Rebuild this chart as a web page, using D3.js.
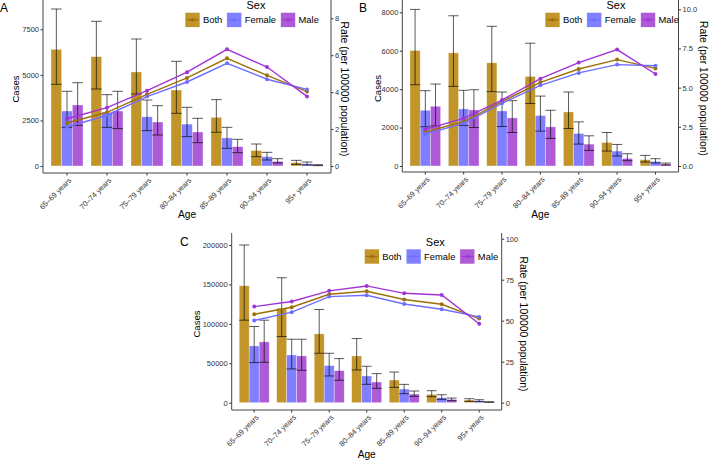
<!DOCTYPE html>
<html>
<head>
<meta charset="utf-8">
<script src="https://cdn.jsdelivr.net/npm/d3@7"></script>
<style>
  body { margin: 0; background: #fff; }
  text { font-family: "Liberation Sans", Arial, sans-serif; }
</style>
</head>
<body>
<script>
// --- data ---
const AGES = ['65–69 years', '70–74 years', '75–79 years', '80–84 years', '85–89 years', '90–94 years', '95+ years'];
const SEXES = ['Both', 'Female', 'Male'];

// panel A
const A_both = [6400, 6000, 5160, 4170, 2670, 850, 183];
const A_both_lo = [4480, 4225, 3950, 2890, 1850, 512, 91];
const A_both_hi = [8613, 7937, 6968, 5743, 3640, 1207, 311];
const A_female = [3017, 2950, 2700, 2300, 1540, 512, 128];
const A_female_lo = [2120, 2120, 1940, 1610, 970, 329, 55];
const A_female_hi = [4100, 3914, 3620, 3220, 2122, 750, 219];
const A_male = [3347, 3017, 2414, 1865, 1061, 256, 55];
const A_male_lo = [2230, 2050, 1700, 1280, 732, 165, 18];
const A_male_hi = [4570, 4100, 3310, 2617, 1463, 402, 73];
const A_rate_both = [2.33, 2.91, 3.88, 4.77, 5.83, 4.91, 4.03];
const A_rate_female = [2.11, 2.75, 3.76, 4.55, 5.56, 4.70, 4.15];
const A_rate_male = [2.56, 3.16, 4.08, 5.08, 6.32, 5.36, 3.77];

// panel B
const B_both = [6010, 5890, 5370, 4663, 2815, 1226, 328];
const B_both_lo = [4233, 4145, 3870, 3250, 1951, 777, 207];
const B_both_hi = [8150, 7820, 7270, 6390, 3851, 1744, 553];
const B_female = [2900, 2970, 2865, 2627, 1692, 777, 242];
const B_female_lo = [2040, 2110, 2055, 1813, 1140, 518, 155];
const B_female_hi = [3920, 3940, 3850, 3640, 2297, 1122, 380];
const B_male = [3110, 2917, 2502, 2036, 1140, 397, 104];
const B_male_lo = [2090, 2003, 1745, 1435, 812, 276, 52];
const B_male_hi = [4265, 3970, 3400, 2900, 1571, 639, 155];
const B_rate_both = [2.17, 2.83, 4.11, 5.34, 6.19, 6.79, 6.23];
const B_rate_female = [2.04, 2.72, 4.0, 5.15, 5.94, 6.47, 6.40];
const B_rate_male = [2.34, 3.04, 4.21, 5.57, 6.60, 7.43, 5.87];

// panel C
const C_both = [148300, 119900, 87290, 59300, 28750, 10570, 3380];
const C_both_lo = [104660, 83900, 62700, 41530, 19450, 7610, 1690];
const C_both_hi = [200000, 158470, 118220, 81360, 38900, 15220, 5070];
const C_female = [72030, 60590, 47030, 33900, 17340, 6340, 2540];
const C_female_lo = [50850, 42800, 33900, 23300, 11420, 4230, 1270];
const C_female_hi = [96600, 80500, 62700, 46190, 23260, 10150, 3800];
const C_male = [77120, 59320, 40680, 26270, 10990, 4230, 850];
const C_male_lo = [51270, 41100, 28390, 18220, 8030, 2540, 420];
const C_male_hi = [104660, 80500, 55930, 36860, 14800, 5920, 1270];
const C_rate_both = [53.96, 58.2, 66.1, 67.95, 62.9, 60.0, 51.3];
const C_rate_female = [50.1, 55.2, 64.7, 65.5, 60.2, 57.0, 52.3];
const C_rate_male = [58.6, 61.7, 68.2, 71.2, 66.7, 65.7, 48.1];

// tick labels
const A_left_ticks = [0, 2500, 5000, 7500];
const A_right_ticks = [0, 2, 4, 6, 8];
const B_left_ticks = [0, 2000, 4000, 6000, 8000];
const B_right_ticks = [0, 2.5, 5, 7.5, 10];
const C_left_ticks = [0, 50000, 100000, 150000, 200000];
const C_right_ticks = [0, 25, 50, 75, 100];

// --- styles ---
const FILL = { Both: '#B8860B', Female: '#0000FF', Male: '#9932CC' };
const FILL_OP = { Both: 0.88, Female: 0.5, Male: 0.8 };
const LINE = { Both: '#9E7008', Female: '#6F6FFF', Male: '#A233D6' };

const svg = d3.select('body').append('svg').attr('width', 709).attr('height', 461);

// build one table per panel from the arrays
function rows(cases, lo, hi, rates) {
  return SEXES.map((s, k) => ({
    sex: s,
    values: AGES.map((a, i) => ({ age: a, sex: s, v: cases[k][i], lo: lo[k][i], hi: hi[k][i], r: rates[k][i] }))
  }));
}

const PANELS = [
  {
    tag: 'A', x0: 43, x1: 331, yTop: 0, yBot: 173,
    left: { dom: [0, 7500], rng: [166, 29.3], ticks: A_left_ticks, fmt: d3.format('d') },
    right: { dom: [0, 8], rng: [166, 18.3], ticks: A_right_ticks, fmt: d3.format('d') },
    data: rows([A_both, A_female, A_male], [A_both_lo, A_female_lo, A_male_lo], [A_both_hi, A_female_hi, A_male_hi], [A_rate_both, A_rate_female, A_rate_male]),
    tagPos: [0, 12], legX: 185, legY: 12.3, ageY: 218, casesOff: 24, rateOff: 9.5
  },
  {
    tag: 'B', x0: 402.3, x1: 678.5, yTop: 0, yBot: 172,
    left: { dom: [0, 8000], rng: [166, 12.3], ticks: B_left_ticks, fmt: d3.format('d') },
    right: { dom: [0, 10], rng: [166, 9.3], ticks: B_right_ticks, fmt: d3.format('.1f') },
    data: rows([B_both, B_female, B_male], [B_both_lo, B_female_lo, B_male_lo], [B_both_hi, B_female_hi, B_male_hi], [B_rate_both, B_rate_female, B_rate_male]),
    tagPos: [359, 12], legX: 545, legY: 12.3, ageY: 218, casesOff: 21.6, rateOff: 21.5
  },
  {
    tag: 'C', x0: 231.7, x1: 501.7, yTop: 233, yBot: 410,
    left: { dom: [0, 200000], rng: [402.7, 245], ticks: C_left_ticks, fmt: d3.format('d') },
    right: { dom: [0, 100], rng: [402.7, 238.7], ticks: C_right_ticks, fmt: d3.format('d') },
    data: rows([C_both, C_female, C_male], [C_both_lo, C_female_lo, C_male_lo], [C_both_hi, C_female_hi, C_male_hi], [C_rate_both, C_rate_female, C_rate_male]),
    tagPos: [180, 246], legX: 364.3, legY: 249, ageY: 458, casesOff: 31.7, rateOff: 18.3
  }
];

PANELS.forEach(drawPanel);

function drawPanel(p) {
  const g = svg.append('g').attr('id', 'panel' + p.tag);

  const x = d3.scaleBand().domain(AGES).range([p.x0, p.x1]).paddingInner(0.2).paddingOuter(0.2);
  const xs = d3.scaleBand().domain(SEXES).range([0, x.bandwidth()]);
  const yL = d3.scaleLinear().domain(p.left.dom).range(p.left.rng);
  const yR = d3.scaleLinear().domain(p.right.dom).range(p.right.rng);

  // bars
  const series = g.append('g').selectAll('g').data(p.data).join('g');
  series.selectAll('rect').data(d => d.values).join('rect')
    .attr('x', d => x(d.age) + xs(d.sex))
    .attr('width', xs.bandwidth())
    .attr('y', d => yL(d.v))
    .attr('height', d => yL(0) - yL(d.v))
    .attr('fill', d => FILL[d.sex])
    .attr('fill-opacity', d => FILL_OP[d.sex])
    .attr('stroke', '#fff').attr('stroke-opacity', 0.6).attr('stroke-width', 0.6);

  // error bars
  const eb = g.append('g').attr('stroke', '#000').attr('stroke-opacity', 0.72).attr('stroke-width', 0.9);
  const cap = xs.bandwidth() / 2;
  p.data.forEach(s => {
    s.values.forEach(d => {
      const cx = x(d.age) + xs(d.sex) + xs.bandwidth() / 2;
      eb.append('line').attr('x1', cx).attr('x2', cx).attr('y1', yL(d.lo)).attr('y2', yL(d.hi));
      eb.append('line').attr('x1', cx - cap).attr('x2', cx + cap).attr('y1', yL(d.lo)).attr('y2', yL(d.lo));
      eb.append('line').attr('x1', cx - cap).attr('x2', cx + cap).attr('y1', yL(d.hi)).attr('y2', yL(d.hi));
    });
  });

  // rate lines
  const cxOf = d => x(d.age) + x.bandwidth() / 2;
  const line = d3.line().x(cxOf).y(d => yR(d.r));
  const ln = g.append('g');
  p.data.forEach(s => {
    ln.append('path').attr('d', line(s.values)).attr('fill', 'none')
      .attr('stroke', LINE[s.sex]).attr('stroke-width', 1.4);
    ln.selectAll(null).data(s.values).join('circle')
      .attr('cx', cxOf).attr('cy', d => yR(d.r)).attr('r', 2)
      .attr('fill', LINE[s.sex]);
  });

  // axes
  const axL = d3.axisLeft(yL).tickValues(p.left.ticks).tickFormat(p.left.fmt).tickSize(2.5).tickPadding(1.5);
  const axR = d3.axisRight(yR).tickValues(p.right.ticks).tickFormat(p.right.fmt).tickSize(2.5).tickPadding(1.5);
  const axB = d3.axisBottom(x).tickSize(2.5).tickFormat('');

  const gL = g.append('g').attr('transform', `translate(${p.x0},0)`).call(axL);
  const gR = g.append('g').attr('transform', `translate(${p.x1},0)`).call(axR);
  const gB = g.append('g').attr('transform', `translate(0,${p.yBot})`).call(axB);

  [gL, gR, gB].forEach(a => {
    a.select('.domain').remove();
    a.selectAll('.tick line').attr('stroke', '#333');
    a.selectAll('.tick text').attr('fill', '#333').style('font-size', '7.5px');
  });
  g.append('path').attr('d', `M${p.x0},${p.yTop}V${p.yBot}H${p.x1}V${p.yTop}`)
    .attr('fill', 'none').attr('stroke', '#444').attr('stroke-width', 1);

  // x tick labels rotated
  g.append('g').selectAll('text').data(AGES).join('text')
    .attr('transform', d => `translate(${x(d) + x.bandwidth() / 2 + 3},${p.yBot + 6}) rotate(-45)`)
    .attr('text-anchor', 'end').attr('dy', '0.35em')
    .style('font-size', '7.5px').attr('fill', '#333')
    .text(d => d);

  // titles
  const midY = (p.yTop + p.yBot) / 2 + 2.5;
  g.append('text').attr('transform', `translate(${p.x0 - p.casesOff},${midY}) rotate(-90)`)
    .attr('text-anchor', 'middle').style('font-size', '9.6px').text('Cases');
  g.append('text').attr('transform', `translate(${p.x1 + p.rateOff},${midY}) rotate(90)`)
    .attr('text-anchor', 'middle').style('font-size', '10.4px').text('Rate (per 100000 population)');
  g.append('text').attr('x', (p.x0 + p.x1) / 2).attr('y', p.ageY)
    .attr('text-anchor', 'middle').style('font-size', '10.2px').text('Age');
  g.append('text').attr('x', p.tagPos[0]).attr('y', p.tagPos[1])
    .style('font-size', '12px').text(p.tag);

  // legend
  const lg = g.append('g');
  lg.append('text').attr('x', p.legX + 71).attr('y', p.legY - 3.3)
    .attr('text-anchor', 'middle').style('font-size', '11px').text('Sex');
  let lx = p.legX;
  SEXES.forEach(s => {
    const k = lg.append('g').attr('transform', `translate(${lx},${p.legY})`);
    k.append('rect').attr('width', 15).attr('height', 15)
      .attr('fill', FILL[s]).attr('fill-opacity', FILL_OP[s])
      .attr('stroke', '#fff').attr('stroke-width', 0.6);
    k.append('line').attr('x1', 1.5).attr('x2', 13.5).attr('y1', 7.5).attr('y2', 7.5)
      .attr('stroke', LINE[s]).attr('stroke-width', 1.2);
    k.append('circle').attr('cx', 7.5).attr('cy', 7.5).attr('r', 1.8).attr('fill', LINE[s]);
    const t = k.append('text').attr('x', 18).attr('y', 7.5).attr('dy', '0.35em')
      .style('font-size', '9.4px').text(s);
    lx += 18 + t.node().getComputedTextLength() + 4.5;
  });
}
</script>
</body>
</html>
